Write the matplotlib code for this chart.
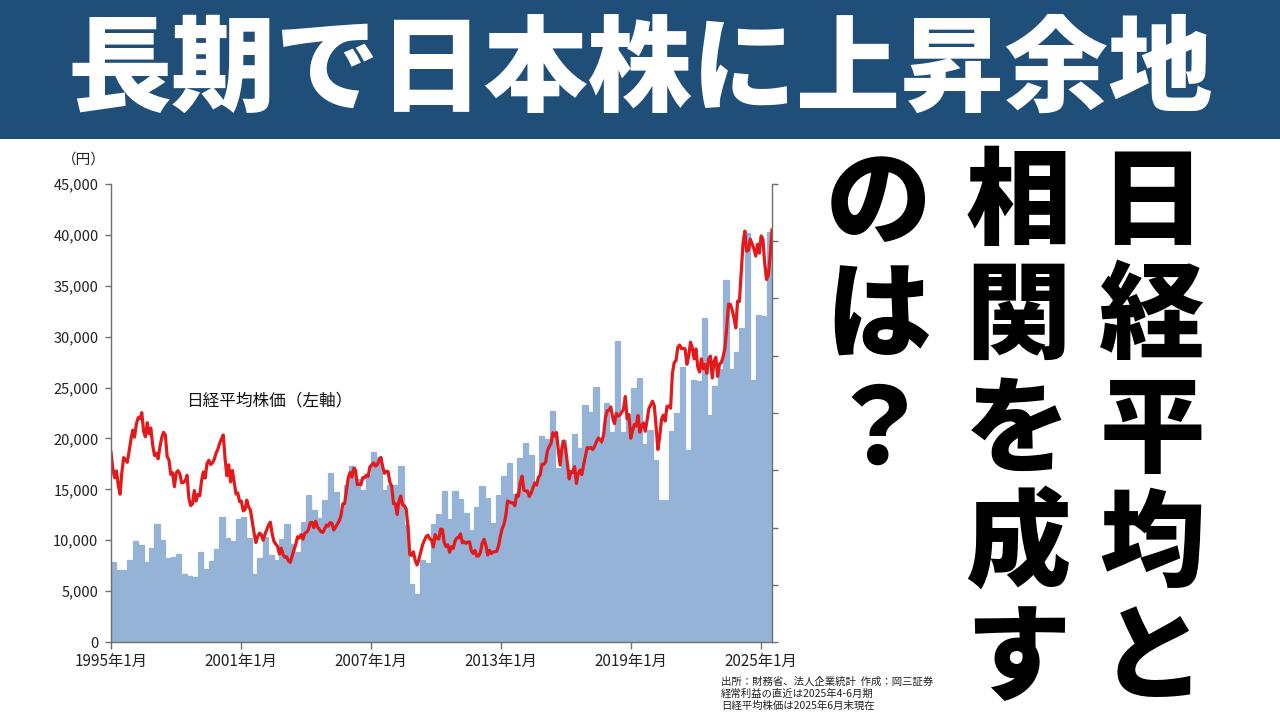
import matplotlib
matplotlib.use('Agg')
import matplotlib.pyplot as plt
import numpy as np

plt.rcParams['font.family'] = ['Noto Sans CJK JP', 'DejaVu Sans']

# Nikkei 225 month-end close, 1995/01 - 2025/06 (yen, left axis)
nikkei = [
    18650, 17053, 16140, 16807, 15437, 14517, 16678, 18117, 17913, 17655, 18744, 19868,
    20813, 20125, 21407, 22041, 21956, 22531, 20692, 20167, 21556, 20467, 21020, 19361,
    18330, 18557, 18003, 19151, 20069, 20605, 20331, 18229, 17888, 16459, 16636, 15259,
    16628, 16832, 16527, 15641, 15671, 15830, 16379, 14108, 13406, 13565, 14884, 13842,
    14499, 14368, 15837, 16701, 16112, 17530, 17862, 17437, 17605, 17942, 18558, 18934,
    19540, 19960, 20337, 17974, 16332, 17411, 15727, 16861, 15747, 14540, 14649, 13786,
    13844, 12884, 12999, 13934, 13262, 12969, 11861, 10714, 9775, 10366, 10697, 10543,
    9998, 10588, 11025, 11493, 11764, 10622, 9878, 9619, 9383, 8640, 9216, 8579,
    8340, 8363, 7973, 7831, 8425, 9083, 9563, 10344, 10219, 10560, 10101, 10677,
    10784, 11042, 11715, 11762, 11236, 11859, 11326, 11082, 10824, 10771, 11131, 11489,
    11388, 11740, 11669, 11009, 11277, 11584, 11900, 12414, 13574, 13607, 14872, 16111,
    16650, 16205, 17060, 16907, 15467, 15505, 15457, 16141, 16128, 16399, 16274, 17226,
    17383, 17604, 17288, 17400, 17876, 18138, 17249, 16569, 16786, 16738, 15681, 15308,
    13592, 13603, 12526, 13850, 14339, 13481, 13377, 13073, 11260, 8577, 8512, 8860,
    7994, 7568, 8110, 8828, 9523, 9958, 10357, 10493, 10133, 10035, 9346, 10546,
    10198, 10126, 11090, 11057, 9769, 9383, 9537, 8824, 9369, 9202, 9937, 10229,
    10238, 10624, 9755, 9850, 9694, 9816, 9833, 8955, 8700, 8988, 8435, 8455,
    8803, 9723, 10084, 9521, 8542, 9007, 8695, 8840, 8870, 8928, 9446, 10395,
    11139, 11559, 12398, 13861, 13775, 13677, 13668, 13389, 14456, 14328, 15662, 16291,
    14915, 14841, 14828, 14304, 14632, 15162, 15621, 15425, 16174, 16414, 17460, 17451,
    17674, 18798, 19207, 19520, 20563, 20236, 20585, 18890, 17388, 19083, 19747, 19034,
    17518, 16027, 16759, 16666, 17235, 15576, 16569, 16887, 16450, 17425, 18308, 19114,
    19041, 19119, 18909, 19197, 19651, 20033, 19925, 19646, 20356, 22012, 22725, 22765,
    23098, 22068, 21454, 22468, 22202, 22305, 22554, 22865, 24120, 21920, 22351, 20015,
    20773, 21385, 21206, 22259, 20601, 21276, 21521, 20704, 21756, 22927, 23294, 23657,
    23205, 21143, 18917, 20194, 21878, 22288, 21710, 23140, 23185, 22977, 26434, 27444,
    27663, 28966, 29179, 28813, 28860, 28792, 27284, 28090, 29453, 28893, 27822, 28792,
    27002, 26527, 27821, 26848, 27280, 26393, 27802, 28092, 25937, 27587, 27969, 26095,
    27327, 27446, 28041, 28856, 30888, 33189, 33172, 32619, 31858, 30859, 33487, 33464,
    36287, 39166, 40369, 38406, 38488, 39583, 39102, 38648, 37920, 39081, 38208, 39895,
    39572, 37156, 35618, 36045, 37965, 40487,
]

# quarterly ordinary profit, 1995 Q1 - 2025 Q2 (right axis, unlabeled)
profit = [
    7.0, 6.3, 6.3, 7.2, 8.8, 8.5, 7.0, 8.2, 10.3, 8.9,
    7.3, 7.4, 7.7, 5.9, 5.8, 5.7, 7.9, 6.4, 7.1, 8.1,
    10.9, 9.1, 8.8, 10.7, 10.9, 9.1, 5.9, 7.3, 9.2, 7.6,
    7.2, 9.0, 10.3, 8.6, 7.9, 10.5, 12.8, 11.5, 10.8, 12.4,
    14.8, 13.1, 11.5, 13.7, 15.4, 14.2, 13.3, 14.6, 16.6, 16.2,
    13.3, 13.7, 13.7, 15.4, 10.2, 5.1, 4.2, 7.2, 6.9, 10.3,
    11.2, 13.2, 10.7, 13.2, 12.5, 11.3, 9.8, 11.8, 13.6, 12.6,
    10.4, 12.8, 14.5, 15.6, 12.9, 16.1, 17.4, 16.3, 14.0, 18.0,
    17.7, 20.2, 15.2, 17.6, 14.9, 18.2, 16.9, 20.7, 20.1, 22.3,
    17.4, 20.9, 18.3, 26.3, 18.3, 19.6, 22.2, 23.1, 17.3, 18.5,
    15.9, 12.4, 12.4, 18.4, 20.0, 24.0, 16.8, 22.9, 22.8, 28.3,
    19.8, 22.4, 23.8, 31.6, 23.8, 25.3, 27.4, 35.7, 22.9, 28.6, 28.5, 35.8,
]

xtick_labels = ['1995年1月', '2001年1月', '2007年1月', '2013年1月', '2019年1月', '2025年1月']
title = '長期で日本株に上昇余地'
side_cols = ['日経平均と', '相関を成す', 'のは？']
notes = ['出所：財務省、法人企業統計  作成：岡三証券',
         '経常利益の直近は2025年4-6月期',
         '日経平均株価は2025年6月末現在']

W, H = 1280, 720
fig = plt.figure(figsize=(12.8, 7.2), dpi=100)
fig.patch.set_facecolor('white')


def fx(px):
    return px / W


def fy(py):
    return 1 - py / H


# title banner
banner = plt.Rectangle((0, fy(139)), 1, 1 - fy(139), transform=fig.transFigure,
                       facecolor='#1f4e79', edgecolor='none')
fig.patches.append(banner)
fig.text(0.5, fy(72), title, color='white', fontsize=75, fontweight='heavy',
         ha='center', va='center')

# chart
ax = fig.add_axes([fx(111), fy(642), fx(772) - fx(111), fy(184) - fy(642)])
ax2 = ax.twinx()

months = len(nikkei)
qx = np.arange(len(profit)) * 3
ax2.bar(qx, profit, width=3, align='edge', color='#95b3d7',
        edgecolor='#95b3d7', linewidth=0.9)
ax2.set_ylim(0, 40)
ax2.set_yticks(np.arange(0, 41, 5))
ax2.set_yticklabels([])

mx = np.linspace(0, months, months)
ax.plot(mx, nikkei, color='#e31a1c', linewidth=2.3)
ax.set_zorder(ax2.get_zorder() + 1)
ax.patch.set_visible(False)

ax.set_xlim(0, months)
ax.set_ylim(0, 45000)
ax.set_yticks(np.arange(0, 45001, 5000))
ax.set_yticklabels(['{:,}'.format(v) for v in range(0, 45001, 5000)])
ax.set_xticks(np.arange(0, months, 72))
ax.set_xticklabels(xtick_labels)

for a in (ax, ax2):
    a.spines['top'].set_visible(False)
    for s in ('left', 'right', 'bottom'):
        a.spines[s].set_color('#6f6f6f')
        a.spines[s].set_linewidth(1.0)
ax.spines['right'].set_visible(False)
ax2.spines['left'].set_visible(False)
ax2.spines['bottom'].set_visible(False)

ax.tick_params(axis='y', direction='out', length=4, width=1, color='#6f6f6f',
               labelsize=10.5, pad=5, labelcolor='#222222')
ax.tick_params(axis='x', direction='out', length=5, width=1, color='#6f6f6f',
               labelsize=11, pad=3, labelcolor='#222222')
ax2.tick_params(axis='y', direction='out', length=4, width=1, color='#6f6f6f')

fig.text(fx(84), fy(160), '（円）', fontsize=10.5, ha='center', va='center',
         color='#222222')
fig.text(fx(186), fy(401), '日経平均株価（左軸）', fontsize=12, ha='left',
         va='center', color='#111111')

for i, line in enumerate(notes):
    fig.text(fx(721), fy(682 + 12 * i), line, fontsize=7.5, ha='left',
             va='center', color='#222222')

# vertical headline on the right
col_x = [1152, 1018, 878]
for c, col in enumerate(side_cols):
    for r, ch in enumerate(col):
        fig.text(fx(col_x[c]), fy(204 + 114 * r), ch, fontsize=76,
                 fontweight='heavy', ha='center', va='center', color='black')

fig.savefig('out.png', dpi=100)
